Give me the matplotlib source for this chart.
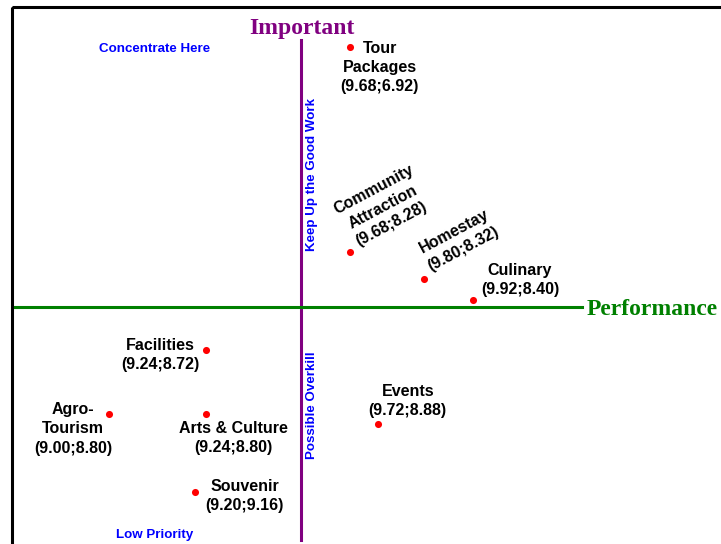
import matplotlib
matplotlib.use('Agg')
import matplotlib.pyplot as plt
from matplotlib.patches import Rectangle

# attributes and their (performance;importance) scores as printed on the chart
attributes = ['Tour\nPackages', 'Community\nAttraction', 'Homestay', 'Culinary', 'Facilities',
              'Agro-\nTourism', 'Arts & Culture', 'Souvenir', 'Events']
performance = [9.68, 9.68, 9.80, 9.92, 9.24, 9.00, 9.24, 9.20, 9.72]
importance = [6.92, 8.28, 8.32, 8.40, 8.72, 8.80, 8.80, 9.16, 8.88]
# where each point sits on the quadrant grid (0-100 across / down the figure)
grid_x = [48.5, 48.5, 58.8, 65.6, 28.6, 15.1, 28.6, 27.0, 52.4]
grid_y = [8.6, 46.3, 51.3, 55.1, 64.3, 76.1, 76.1, 90.4, 77.9]
quadrants = ['Concentrate Here', 'Keep Up the Good Work', 'Low Priority', 'Possible Overkill']

# label offsets (pixels) and rotation for each point
offsets = [(30, -21), (33, 45), (35, 39), (47, 20), (-46, -5), (-36, -15), (27, -24), (50, -4), (30, 23)]
rotations = [0, 28, 28, 0, 0, 0, 0, 0, 0]

fig = plt.figure(figsize=(7.21, 5.44), dpi=100)
ax = fig.add_axes([0, 0, 1, 1])
ax.set_xlim(0, 100)
ax.set_ylim(100, 0)
ax.axis('off')

# frame
ax.add_patch(Rectangle((12 / 7.21, 7 / 5.44), 100, 100, fill=False, ec='black', lw=2.2, zorder=1))

# quadrant axes
ax.plot([41.7, 41.7], [7.4, 99.3], color='#800080', lw=2.2, zorder=2)
ax.plot([2.1, 80.7], [56.4, 56.4], color='#008000', lw=2.2, zorder=2)
ax.text(41.9, 5.2, 'Important', family='Liberation Serif', weight='bold', fontsize=17,
        color='#800080', ha='center', va='center')
ax.text(81.4, 56.9, 'Performance', family='Liberation Serif', weight='bold', fontsize=17,
        color='#008000', ha='left', va='center')

# quadrant names
qfont = dict(family='Liberation Sans', weight='bold', fontsize=9.6, color='#0000FF', ha='center', va='center')
ax.text(21.5, 9.0, quadrants[0], **qfont)
ax.text(43.3, 32.1, quadrants[1], rotation=90, **qfont)
ax.text(21.5, 98.3, quadrants[2], **qfont)
ax.text(43.3, 74.5, quadrants[3], rotation=90, **qfont)

# points
ax.scatter(grid_x, grid_y, s=26, color='#FF0000', zorder=3, linewidths=0)
for name, p, i, x, y, off, rot in zip(attributes, performance, importance, grid_x, grid_y, offsets, rotations):
    ax.annotate(f'{name}\n({p:.2f};{i:.2f})', (x, y), xytext=off, textcoords='offset pixels',
                ha='center', va='center', multialignment='center', rotation=rot, rotation_mode='anchor',
                family='Liberation Sans', weight='bold', fontsize=11.5, linespacing=1.35, color='black')

fig.savefig('out.png', dpi=100)
